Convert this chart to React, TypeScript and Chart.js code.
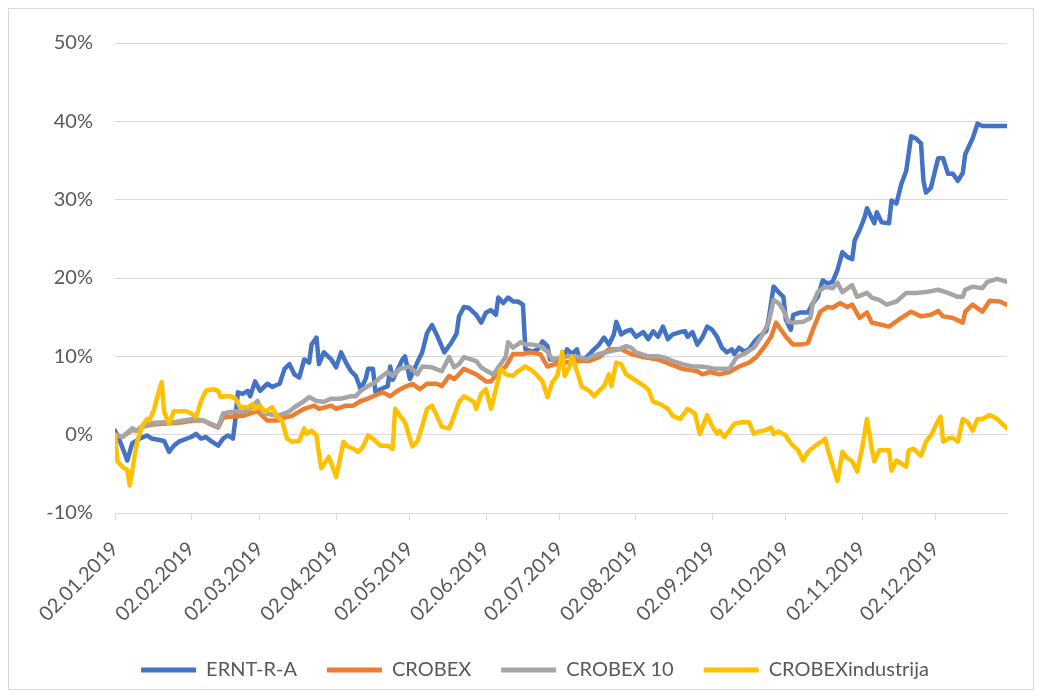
import { useEffect, useRef } from 'react';
import { Chart, registerables } from 'chart.js';

Chart.register(...registerables);

// x values are days counted from 02.01.2019
const TICK_DAYS = [0, 31, 59, 90, 120, 151, 181, 212, 243, 273, 304, 334];
const TICK_LABELS = [
  '02.01.2019', '02.02.2019', '02.03.2019', '02.04.2019', '02.05.2019', '02.06.2019',
  '02.07.2019', '02.08.2019', '02.09.2019', '02.10.2019', '02.11.2019', '02.12.2019',
];
const X_MAX = 363;

const SERIES_NAMES = ['ERNT-R-A', 'CROBEX', 'CROBEX 10', 'CROBEXindustrija'];
const SERIES_COLORS = ['#4472C4', '#ED7D31', '#A5A5A5', '#FFC000'];

const ERNT_DAYS = [0,2,5,7,10,13,15,20,22,24,26,31,33,35,37,39,42,44,46,48,49,50,52,54,55,57,59,62,64,67,69,71,73,75,77,79,80,82,83,85,88,90,92,94,96,98,100,102,103,105,106,108,111,112,113,117,118,120,123,125,127,129,131,134,137,139,140,142,144,147,149,151,153,155,156,158,160,162,164,166,167,170,172,174,176,177,179,182,184,186,188,189,192,194,197,199,201,203,204,206,208,210,212,215,217,219,221,223,225,227,230,232,233,235,237,239,241,243,245,247,249,251,252,254,256,258,260,262,265,266,268,270,272,273,275,276,279,282,284,286,288,290,292,294,296,298,300,301,303,305,306,309,310,312,315,316,318,320,322,324,326,328,329,330,332,335,337,339,341,343,345,346,349,351,353,363];
const ERNT = [0.5,-0.8,-3.3,-1.1,-0.5,-0.1,-0.5,-0.8,-2.2,-1.4,-0.9,-0.3,0.1,-0.5,-0.3,-0.8,-1.4,-0.5,-0.1,-0.5,2.0,5.4,5.2,5.6,4.9,6.8,5.6,6.5,6.1,6.5,8.4,9.0,7.7,7.3,9.6,9.2,11.5,12.4,9.0,10.5,9.6,8.6,10.5,9.2,8.1,7.5,5.8,7.1,8.4,8.4,5.4,5.8,6.2,8.7,7.0,9.6,10.0,7.1,9.2,10.5,13.0,14.0,12.7,10.5,11.8,12.9,15.1,16.3,16.2,15.3,14.3,15.6,15.9,15.3,17.5,16.8,17.5,17.0,17.0,16.6,10.9,10.6,10.9,11.9,11.3,9.6,9.6,9.6,10.9,10.3,10.9,9.6,9.9,10.6,11.5,12.4,11.5,12.8,14.4,12.8,13.2,13.4,12.5,13.1,12.2,13.2,12.5,13.8,12.2,12.8,13.1,13.2,12.5,13.1,11.5,12.4,13.8,13.4,12.5,11.1,10.5,10.9,10.3,11.1,10.6,10.9,11.8,12.5,13.2,14.7,18.9,18.2,17.6,14.7,13.4,15.3,15.6,15.6,16.8,17.6,19.7,19.3,19.5,21.0,23.3,22.7,22.4,24.8,26.1,27.7,28.9,27.0,28.4,27.1,27.0,29.9,29.5,32.0,33.7,38.1,37.8,37.2,32.4,30.9,31.5,35.3,35.3,33.3,33.3,32.4,33.4,35.8,37.8,39.7,39.4,39.4];

const CROBEX_DAYS = [0,3,7,9,11,15,20,24,28,32,36,39,42,44,47,52,58,62,66,69,72,77,81,83,88,90,94,97,100,103,105,109,112,115,118,121,124,127,131,133,136,138,140,142,147,151,153,156,159,162,166,169,173,176,179,183,187,193,197,201,206,210,215,221,226,231,237,239,242,246,250,254,258,261,264,267,269,271,273,276,279,282,284,287,290,292,295,298,300,303,306,308,311,315,319,324,328,332,335,337,341,345,346,349,353,356,360,363];
const CROBEX = [0,-0.3,0.6,0.5,1.0,1.3,1.4,1.5,1.6,1.8,1.8,1.3,0.9,2.2,2.3,2.4,3.0,1.8,1.8,2.2,2.4,3.3,3.7,3.3,3.7,3.3,3.7,3.7,4.3,4.6,4.9,5.4,4.9,5.6,6.1,6.5,5.8,6.5,6.5,6.2,7.5,7.1,7.7,8.4,7.7,6.8,6.8,8.0,8.7,10.3,10.3,10.5,10.3,8.7,9.0,9.2,9.4,9.4,9.9,10.9,10.9,10.3,9.9,9.6,9.0,8.4,8.1,7.7,8.0,7.7,8.0,8.7,9.2,9.9,11.1,12.5,14.3,13.4,12.5,11.5,11.5,11.7,13.4,15.7,16.3,16.2,16.8,16.3,16.6,14.9,15.6,14.3,14.1,13.8,14.7,15.7,15.1,15.3,15.8,15.1,14.9,14.3,15.7,16.6,15.7,17.1,17.0,16.6];

const CROBEX10_DAYS = [0,3,7,9,11,15,20,24,28,32,36,39,42,44,47,50,52,55,58,60,63,66,69,71,73,77,79,82,85,88,92,96,98,100,103,106,108,111,113,116,120,123,125,129,133,136,138,140,142,147,149,152,154,156,159,160,162,165,167,170,173,176,178,182,185,189,192,194,197,201,205,208,210,212,217,221,223,227,231,235,238,241,244,247,250,253,256,260,263,266,268,270,272,274,276,280,283,284,286,289,292,294,296,300,302,306,308,311,314,318,322,326,330,335,339,343,345,346,349,353,355,359,363];
const CROBEX10 = [0,-0.3,0.8,0.5,1.1,1.5,1.6,1.6,1.8,2.0,1.8,1.4,1.0,2.7,2.9,3.0,2.9,3.3,4.3,2.8,2.6,2.4,2.7,3.0,3.5,4.3,4.8,4.3,4.2,4.6,4.6,4.9,4.9,5.6,6.2,6.7,7.3,8.0,7.5,8.4,8.7,7.7,8.7,8.6,8.1,9.9,8.6,9.0,9.9,9.4,8.6,8.0,7.7,8.6,9.9,11.8,11.1,11.8,11.5,11.5,11.3,10.6,9.6,9.9,10.0,9.9,9.6,10.0,10.3,10.6,10.9,11.3,11.1,10.5,10.0,10.0,9.9,9.4,9.0,8.7,8.7,8.6,8.4,8.4,8.4,9.9,10.3,11.1,12.5,14.3,17.2,16.8,15.9,14.4,14.3,14.4,14.9,16.8,18.2,18.9,18.7,19.4,18.2,19.1,17.6,18.1,17.5,17.2,16.6,17.0,18.1,18.1,18.2,18.5,18.1,17.6,17.6,18.5,18.9,18.7,19.5,19.9,19.5];

const INDUSTRIJA_DAYS = [0,1,3,5,6,7,8,9,11,13,14,16,17,19,20,22,24,26,29,31,33,35,37,40,42,43,45,47,49,51,54,56,57,59,61,64,66,68,70,72,75,77,78,80,82,83,84,87,90,93,94,97,99,101,103,105,108,111,113,114,116,118,120,121,123,125,127,129,131,133,136,138,140,142,146,147,149,151,153,155,157,159,162,164,167,170,172,174,176,178,180,182,183,185,186,188,190,193,195,197,199,201,202,204,206,208,210,214,217,219,222,225,227,230,233,234,236,238,241,243,245,246,248,250,252,255,258,260,262,264,267,268,270,273,275,278,280,282,285,288,289,290,292,294,296,298,300,302,304,306,308,309,311,315,316,318,322,323,325,328,330,332,335,336,337,339,341,343,345,347,349,351,353,356,359,363];
const INDUSTRIJA = [0,-3.4,-4.1,-4.5,-6.5,-4.7,-2.7,-0.9,1.1,2.0,1.8,3.3,4.6,6.7,2.9,1.4,3.0,3.0,3.0,2.7,2.3,4.3,5.6,5.8,5.6,4.8,4.9,4.9,4.6,3.5,3.5,3.9,3.3,3.7,2.9,3.5,2.3,1.8,-0.5,-0.9,-0.8,0.8,0.1,0.5,-0.1,-2.5,-4.3,-2.8,-5.4,-0.9,-1.4,-1.8,-2.2,-1.5,-0.1,-0.5,-1.4,-1.4,-1.8,3.3,2.4,1.6,-0.5,-1.5,-0.9,1.1,3.3,3.7,2.4,1.0,0.8,2.4,4.2,4.9,4.2,3.3,5.2,5.8,3.3,5.8,8.4,7.7,7.5,8.1,8.7,8.1,7.5,6.8,4.8,6.7,7.5,10.6,7.5,8.7,10.0,8.1,6.1,5.6,4.9,5.6,6.2,7.7,6.2,9.2,9.0,7.7,7.3,6.5,5.8,4.2,3.9,3.3,2.4,2.0,3.3,3.1,2.7,0.1,2.5,1.1,0.1,0.5,-0.3,0.5,1.4,1.6,1.6,0.1,0.4,0.5,0.9,0.1,0.4,-0.1,-1.1,-2.0,-3.3,-2.2,-1.4,-0.8,-0.5,-1.8,-3.9,-5.9,-2.2,-3.0,-3.4,-4.7,-1.8,2.0,-1.8,-3.4,-2.0,-2.0,-4.6,-3.3,-4.1,-2.0,-1.8,-2.7,-0.9,-0.1,1.8,2.3,-0.9,-0.5,-0.4,-0.9,2.0,1.6,0.5,2.0,2.0,2.5,2.0,0.8];

const Y_TICKS = [-10, 0, 10, 20, 30, 40, 50];

const FONT_FAMILY = 'Lato, "Open Sans", sans-serif';
const TEXT_COLOR = '#595959';
const GRID_COLOR = '#d9d9d9';

function toPoints(days: number[], vals: number[]) {
  const n = Math.min(days.length, vals.length);
  const out: { x: number; y: number }[] = [];
  for (let i = 0; i < n; i++) out.push({ x: days[i], y: vals[i] });
  return out;
}

export default function App() {
  const ref = useRef<HTMLCanvasElement>(null);

  useEffect(() => {
    if (!ref.current) return;
    const sets = [
      toPoints(ERNT_DAYS, ERNT),
      toPoints(CROBEX_DAYS, CROBEX),
      toPoints(CROBEX10_DAYS, CROBEX10),
      toPoints(INDUSTRIJA_DAYS, INDUSTRIJA),
    ];
    const legendShift = {
      id: 'legendShift',
      afterLayout(chart: any) {
        const l = chart.legend;
        if (l) {
          l.left += 27;
          l.right += 27;
          l.top += 3;
          l.bottom += 3;
        }
      },
    };
    const chart = new Chart(ref.current, {
      type: 'line',
      data: {
        datasets: sets.map((pts, i) => ({
          label: SERIES_NAMES[i],
          data: pts,
          borderColor: SERIES_COLORS[i],
          backgroundColor: SERIES_COLORS[i],
          borderWidth: 4.5,
          pointRadius: 0,
          pointHoverRadius: 0,
          tension: 0,
          borderJoinStyle: 'round' as const,
          borderCapStyle: 'round' as const,
          order: 4 - i,
        })),
      },
      options: {
        animation: false,
        responsive: false,
        layout: { padding: { left: 0, right: 26, top: 32, bottom: 2 } },
        scales: {
          x: {
            type: 'linear',
            min: 0,
            max: X_MAX,
            afterBuildTicks: (scale: any) => {
              scale.ticks = TICK_DAYS.map((v) => ({ value: v }));
            },
            afterFit: (scale: any) => {
              scale.height = 114;
            },
            ticks: {
              autoSkip: false,
              maxRotation: 45,
              minRotation: 45,
              padding: 17,
              color: TEXT_COLOR,
              font: { family: FONT_FAMILY, size: 20 },
              callback: (value: any) => {
                const idx = TICK_DAYS.indexOf(Number(value));
                return idx >= 0 ? TICK_LABELS[idx] : '';
              },
            },
            grid: {
              drawOnChartArea: false,
              drawTicks: true,
              tickLength: 7,
              color: GRID_COLOR,
              lineWidth: 1,
            },
            border: { display: true, color: GRID_COLOR, width: 1 },
          },
          y: {
            min: -10,
            max: 50,
            afterBuildTicks: (scale: any) => {
              scale.ticks = Y_TICKS.map((v) => ({ value: v }));
            },
            afterFit: (scale: any) => {
              scale.width = 106;
            },
            ticks: {
              padding: 22,
              color: TEXT_COLOR,
              font: { family: FONT_FAMILY, size: 20 },
              callback: (value: any) => `${value}%`,
            },
            grid: { color: GRID_COLOR, drawTicks: false, lineWidth: 1 },
            border: { display: false },
          },
        },
        plugins: {
          legend: {
            position: 'bottom',
            labels: {
              boxWidth: 55,
              boxHeight: 5,
              padding: 30,
              color: TEXT_COLOR,
              font: { family: FONT_FAMILY, size: 20 },
              sort: (a: any, b: any) => a.datasetIndex - b.datasetIndex,
              generateLabels: (c: any) =>
                (Chart.defaults.plugins.legend.labels.generateLabels as any)(c).map((it: any) => ({
                  ...it,
                  lineWidth: 0,
                })),
            },
          },
          tooltip: { enabled: false },
        },
      },
      plugins: [legendShift],
    } as any);
    return () => chart.destroy();
  }, []);

  return (
    <div
      style={{
        width: 1024,
        height: 680,
        border: `1px solid ${GRID_COLOR}`,
        position: 'relative',
        background: '#fff',
      }}
    >
      <canvas ref={ref} width={1024} height={680} style={{ display: 'block' }} />
    </div>
  );
}
